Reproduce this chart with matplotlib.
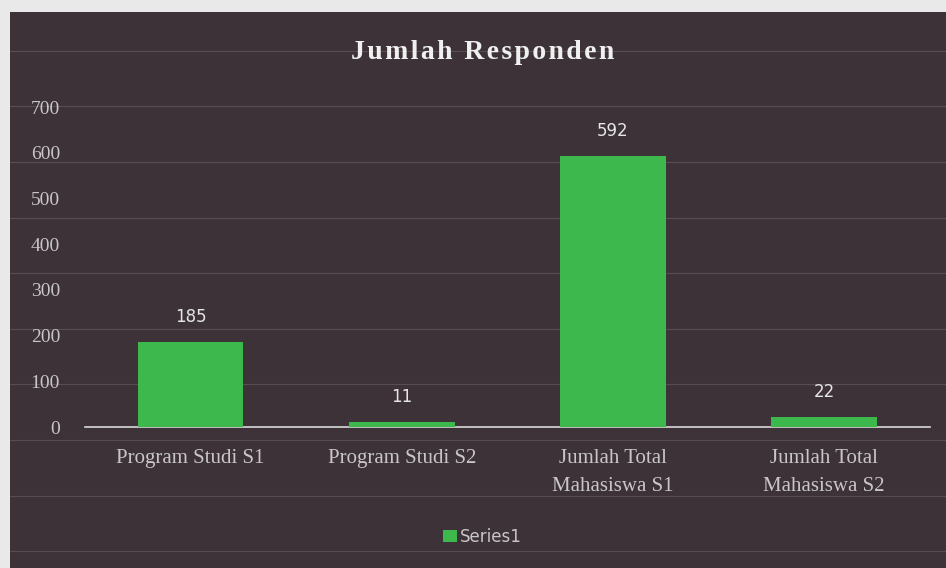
import numpy as np
import matplotlib.pyplot as plt

categories = ['Program Studi S1', 'Program Studi S2',
              'Jumlah Total\nMahasiswa S1', 'Jumlah Total\nMahasiswa S2']
values = [185, 11, 592, 22]
yticks = [0, 100, 200, 300, 400, 500, 600, 700]

bg = '#3d3237'
green = '#3cb84c'
txt = '#c9c6c8'

fig = plt.figure(figsize=(9.46, 5.68), dpi=100)
fig.patch.set_facecolor('#e9e9e9')

# dark chart area (photo of a screen)
panel = fig.add_axes([0.011, 0, 0.989, 0.979])
panel.set_facecolor(bg)
panel.set_xticks([])
panel.set_yticks([])
for s in panel.spines.values():
    s.set_visible(False)
# faint screen scan lines
for yy in np.linspace(0.03, 0.93, 10):
    panel.axhline(yy, color='#8a8088', lw=0.8, alpha=0.35)

ax = fig.add_axes([0.0899, 0.2482, 0.893, 0.5634])
ax.patch.set_alpha(0)
x = np.arange(len(categories))
bars = ax.bar(x, values, width=0.5, color=green, zorder=3, label='Series1')

ax.set_ylim(0, 700)
ax.set_xlim(-0.5, len(categories) - 0.5)
ax.set_yticks(yticks)
ax.set_yticklabels([str(v) for v in yticks], family='Liberation Serif',
                   fontsize=14, color=txt)
ax.set_xticks(x)
ax.set_xticklabels(categories, family='Liberation Serif', fontsize=15,
                   color=txt, linespacing=1.6)
ax.tick_params(length=0)
ax.tick_params(axis='x', pad=16)
ax.tick_params(axis='y', pad=18)
for s in ['top', 'right', 'left']:
    ax.spines[s].set_visible(False)
ax.spines['bottom'].set_color('#d8d8d8')
ax.spines['bottom'].set_linewidth(1.2)

for b, v in zip(bars, values):
    ax.text(b.get_x() + b.get_width() / 2, v + 36, str(v), ha='center',
            va='bottom', color='#e6e6e6', fontsize=12, family='DejaVu Sans')

title = '\u200a'.join('Jumlah Responden')
fig.text(0.51, 0.908, title, ha='center', va='center',
         family=['Liberation Serif', 'DejaVu Serif'], fontsize=20,
         fontweight='bold', color='#f0f0f0')

leg = fig.legend(handles=[bars], labels=['Series1'], loc='center',
                 bbox_to_anchor=(0.51, 0.055), frameon=False, fontsize=12,
                 handlelength=0.8, handleheight=0.8, handletextpad=0.2)
for t in leg.get_texts():
    t.set_color(txt)

fig.savefig('out.png', dpi=100, facecolor=fig.get_facecolor())
